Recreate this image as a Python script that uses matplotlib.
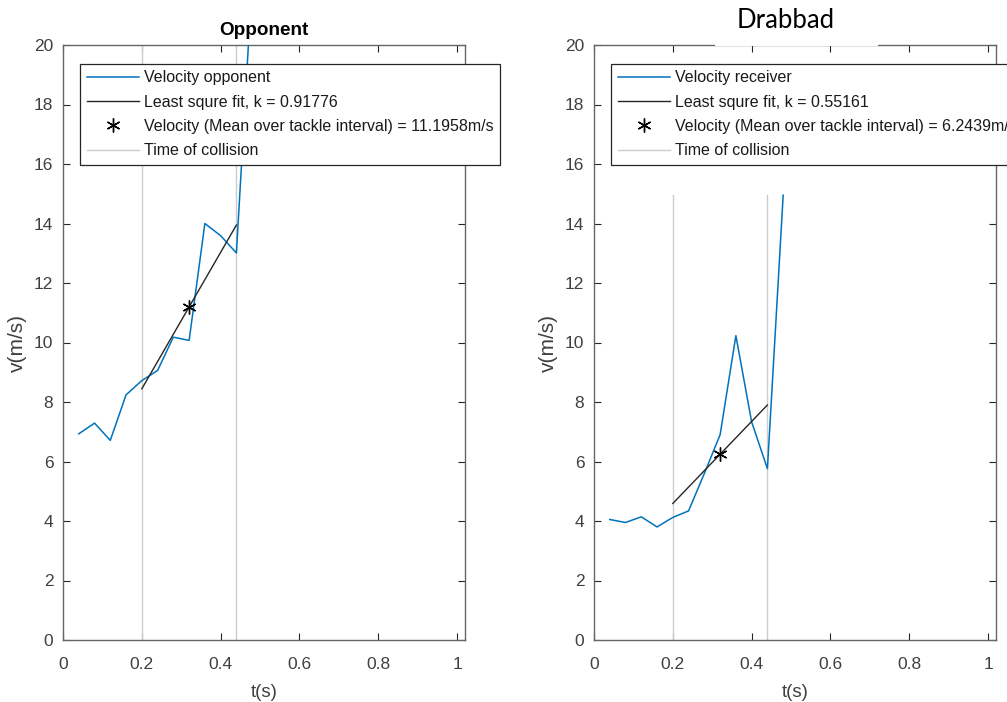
import matplotlib
matplotlib.use("Agg")
import matplotlib.pyplot as plt
from matplotlib.patches import Rectangle
import numpy as np

# Sample times (s) and speeds (m/s) for the two players
t_samples = [0.04, 0.08, 0.12, 0.16, 0.20, 0.24, 0.28, 0.32, 0.36, 0.40, 0.44, 0.48]
v_opponent = [6.93, 7.29, 6.71, 8.24, 8.72, 9.06, 10.18, 10.07, 14.00, 13.59, 13.01, 22.2]
v_receiver = [4.05, 3.95, 4.14, 3.80, 4.12, 4.34, 5.60, 6.90, 10.23, 7.33, 5.76, 14.95]

# Tackle interval and fit results
collision_times = [0.20, 0.44]
sample_step = 0.04
k_opponent = 0.91776
k_receiver = 0.55161
mean_opponent = 11.1958
mean_receiver = 6.2439

titles = ["Opponent", "Drabbad"]
velocity_labels = ["Velocity opponent", "Velocity receiver"]
x_ticks = [0, 0.2, 0.4, 0.6, 0.8, 1]
x_tick_labels = ["0", "0.2", "0.4", "0.6", "0.8", "1"]
y_ticks = list(range(0, 21, 2))

BLUE = (0.0, 0.447, 0.741)
AXC = (0.15, 0.15, 0.15)
TXT = (0.25, 0.25, 0.25)
GRID_GRAY = (0.8, 0.8, 0.8)

plt.rcParams["font.family"] = ["Liberation Sans", "DejaVu Sans"]

fig = plt.figure(figsize=(10.07, 7.02), dpi=100)
W, H = 1007, 702

def axes_rect(x0, x1, y0, y1):
    return [x0 / W, 1 - y1 / H, (x1 - x0) / W, (y1 - y0) / H]

ax_left = fig.add_axes(axes_rect(63, 465, 45, 640))
ax_right = fig.add_axes(axes_rect(594, 996, 45, 640))

panels = [
    (ax_left, v_opponent, k_opponent, mean_opponent, velocity_labels[0]),
    (ax_right, v_receiver, k_receiver, mean_receiver, velocity_labels[1]),
]

t_mid = 0.5 * (collision_times[0] + collision_times[1])

for ax, v, k, vmean, vlabel in panels:
    (h_vel,) = ax.plot(t_samples, v, color=BLUE, lw=1.1, label=vlabel, zorder=3)

    t_fit = np.array(collision_times)
    v_fit = vmean + k * (t_fit - t_mid) / sample_step
    (h_fit,) = ax.plot(t_fit, v_fit, color=AXC, lw=1.0,
                       label=f"Least squre fit, k = {k}", zorder=4)

    (h_mean,) = ax.plot([t_mid], [vmean], linestyle="none", marker=(6, 2, 0),
                        markersize=10, markeredgewidth=1.0, color="black",
                        label=f"Velocity (Mean over tackle interval) = {vmean}m/s",
                        zorder=5)

    v_top = max(v)
    h_coll = None
    for tc in collision_times:
        (h_coll,) = ax.plot([tc, tc], [0, v_top], color=GRID_GRAY, lw=1.0,
                            label="Time of collision", zorder=2)

    ax.set_xlim(0, 1.02)
    ax.set_ylim(0, 20)
    ax.set_xticks(x_ticks)
    ax.set_xticklabels(x_tick_labels)
    ax.set_yticks(y_ticks)
    ax.tick_params(direction="in", top=True, right=True, length=5, width=0.8,
                   colors=AXC, labelsize=12.5, labelcolor=TXT)
    ax.tick_params(axis="x", pad=12)
    ax.tick_params(axis="y", pad=7)
    for sp in ax.spines.values():
        sp.set_color((0.4, 0.4, 0.4))
        sp.set_linewidth(1.0)
    ax.set_xlabel("t(s)", fontsize=13.5, color=TXT, labelpad=9)
    ax.set_ylabel("v(m/s)", fontsize=15, color=TXT, labelpad=5)

    leg = ax.legend(handles=[h_vel, h_fit, h_mean, h_coll], loc="upper left",
                    bbox_to_anchor=(0.043, 0.968), fontsize=11.5,
                    frameon=True, fancybox=False, framealpha=1.0,
                    edgecolor=AXC, handlelength=3.25, handletextpad=0.35,
                    labelspacing=0.58, borderpad=0.4, borderaxespad=0.0)
    leg.get_frame().set_linewidth(0.9)
    leg.set_zorder(10)
    for txt in leg.get_texts():
        txt.set_color((0.1, 0.1, 0.1))

ax_left.set_title(titles[0], fontsize=13.6, fontweight="bold", pad=7)

# Heading of the second panel sits on a white strip over the top frame
fig.patches.append(Rectangle((715 / W, 1 - 46 / H), (878 - 715) / W, 5 / H,
                             transform=fig.transFigure, facecolor="white",
                             edgecolor="none", zorder=20))
fig.text(786 / W, 1 - 28 / H, titles[1], family=["Lato", "DejaVu Sans"],
         fontsize=18.5, ha="center", va="baseline", color="black", zorder=21)

fig.savefig("out.png", dpi=100)
